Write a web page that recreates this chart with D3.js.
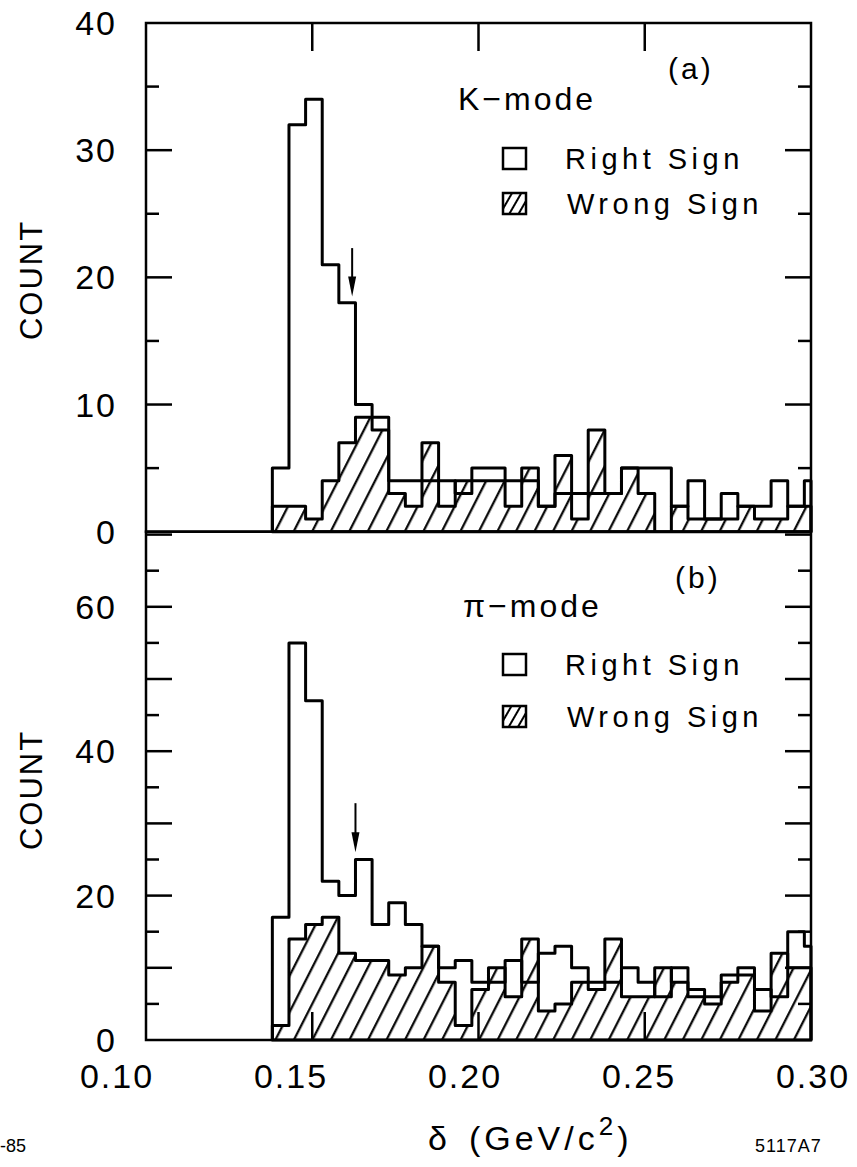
<!DOCTYPE html>
<html>
<head>
<meta charset="utf-8">
<script src="https://cdn.jsdelivr.net/npm/d3@7"></script>
<style>
  body { margin: 0; background: #fff; }
  svg { display: block; }
  text { font-family: "Liberation Sans", Arial, sans-serif; fill: #000; }
</style>
</head>
<body>
<svg id="chart" width="857" height="1167"></svg>
<script>
// Histogram binning in delta (GeV/c^2)
const binStart = 0.138;
const binWidth = 0.005;

// (a) K-mode counts per bin
const kRight = [5, 32, 34, 21, 18, 10, 9, 4, 4, 4, 4, 3, 5, 5, 4, 4, 2, 3, 3, 3, 3, 5, 5, 5, 2, 4, 1, 3, 2, 2, 4, 2, 4];
const kWrong = [2, 2, 1, 4, 7, 9, 8, 3, 2, 7, 2, 4, 4, 4, 2, 5, 2, 6, 1, 8, 3, 5, 3, 0, 2, 1, 1, 1, 2, 1, 1, 2, 2];

// (b) pi-mode counts per bin
const piRight = [17, 55, 47, 22, 20, 25, 16, 19, 16, 13, 10, 11, 8, 8, 11, 8, 12, 13, 10, 8, 8, 10, 8, 6, 10, 7, 6, 9, 10, 7, 6, 15, 13];
const piWrong = [2, 14, 16, 17, 12, 11, 11, 9, 10, 13, 8, 2, 7, 10, 6, 14, 4, 5, 8, 7, 14, 6, 6, 10, 8, 6, 5, 8, 9, 4, 12, 10, 10];

// Axis ticks and labels
const xTickValues = [0.10, 0.15, 0.20, 0.25, 0.30];
const xTickLabels = ["0.10", "0.15", "0.20", "0.25", "0.30"];
const yTicksA = [0, 10, 20, 30, 40];
const yTicksB = [0, 20, 40, 60];

// Arrow positions (delta, count at tip, count at tail)
const arrowA = [0.162, 18.5, 22.3];
const arrowB = [0.163, 26, 32.8];

const svg = d3.select("#chart");
const left = 146, right = 811;
const x = d3.scaleLinear().domain([0.10, 0.30]).range([left, right]);
// hand-lettered tick labels sit on a slightly wider spacing than the ticks
const xLabel = d3.scaleLinear().domain([0.10, 0.30]).range([117, 813]);
const yA = d3.scaleLinear().domain([0, 40]).range([531.7, 23]);
const yB = d3.scaleLinear().domain([0, 70]).range([1040, 534.6]);

const defs = svg.append("defs");
defs.append("pattern")
  .attr("id", "hatch").attr("patternUnits", "userSpaceOnUse")
  .attr("width", 16.5).attr("height", 16.5)
  .attr("patternTransform", "rotate(27)")
  .append("line").attr("x1", 8).attr("y1", -1).attr("x2", 8).attr("y2", 18)
  .attr("stroke", "#000").attr("stroke-width", 2.2);
defs.append("pattern")
  .attr("id", "hatchSmall").attr("patternUnits", "userSpaceOnUse")
  .attr("width", 8).attr("height", 8)
  .attr("patternTransform", "rotate(30)")
  .append("line").attr("x1", 4).attr("y1", -1).attr("x2", 4).attr("y2", 9)
  .attr("stroke", "#000").attr("stroke-width", 2);

function stepPath(counts, y) {
  const p = d3.path();
  const x0 = x(binStart);
  p.moveTo(x0, y(0));
  counts.forEach((c, i) => {
    const a = Math.min(binStart + i * binWidth, 0.30);
    const b = Math.min(binStart + (i + 1) * binWidth, 0.30);
    p.lineTo(x(a), y(c));
    p.lineTo(x(b), y(c));
  });
  const xe = Math.min(binStart + counts.length * binWidth, 0.30);
  p.lineTo(x(xe), y(0));
  return p.toString();
}

function panel(y, top, bottom, right_, wrong, cfg) {
  const g = svg.append("g");
  // wrong-sign: hatched area
  g.append("path").attr("d", stepPath(wrong, y) + "Z")
    .attr("fill", "url(#hatch)").attr("stroke", "#000")
    .attr("stroke-width", 3).attr("stroke-linejoin", "round");
  // right-sign: open outline
  g.append("path").attr("d", stepPath(right_, y))
    .attr("fill", "none").attr("stroke", "#000")
    .attr("stroke-width", 3).attr("stroke-linejoin", "round");

  // frame
  g.append("rect").attr("x", left).attr("y", top)
    .attr("width", right - left).attr("height", bottom - top)
    .attr("fill", "none").attr("stroke", "#000").attr("stroke-width", 2.5);

  // y ticks, both sides
  const yMax = y.domain()[1];
  for (let v = 5; v < yMax + 0.5; v += 5) {
    const len = (v % cfg.major === 0) ? 26 : 13;
    const yy = y(v);
    if (yy < top + 1) continue;
    g.append("line").attr("x1", left).attr("x2", left + len).attr("y1", yy).attr("y2", yy)
      .attr("stroke", "#000").attr("stroke-width", 2.5);
    g.append("line").attr("x1", right - len).attr("x2", right).attr("y1", yy).attr("y2", yy)
      .attr("stroke", "#000").attr("stroke-width", 2.5);
  }
  // x ticks on outer edge
  [0.15, 0.20, 0.25].forEach(v => {
    const ty = cfg.xTickAtTop ? top : bottom;
    const dir = cfg.xTickAtTop ? 1 : -1;
    g.append("line").attr("x1", x(v)).attr("x2", x(v))
      .attr("y1", ty).attr("y2", ty + dir * 28)
      .attr("stroke", "#000").attr("stroke-width", 2.5);
  });

  // y tick labels
  cfg.labels.forEach(v => {
    g.append("text").attr("x", 117).attr("y", y(v) + 12)
      .attr("text-anchor", "end").attr("font-size", 34)
      .attr("letter-spacing", 2).text(v);
  });

  // COUNT axis title
  g.append("text").attr("transform", `translate(42,${cfg.titleY}) rotate(-90)`)
    .attr("text-anchor", "middle").attr("font-size", 31)
    .attr("letter-spacing", 2).text("COUNT");

  // arrow
  const [ad, ac1, ac2] = cfg.arrow;
  g.append("line").attr("x1", x(ad)).attr("x2", x(ad)).attr("y1", y(ac2)).attr("y2", y(ac1) - 8)
    .attr("stroke", "#000").attr("stroke-width", 2);
  g.append("path")
    .attr("d", `M${x(ad) - 4},${y(ac1) - 20} L${x(ad) + 4},${y(ac1) - 20} L${x(ad)},${y(ac1)} Z`)
    .attr("fill", "#000");

  // panel tag, mode label and legend
  g.append("text").attr("x", cfg.tag[0]).attr("y", cfg.tag[1]).attr("font-size", 30)
    .attr("letter-spacing", 3).text(cfg.tag[2]);
  g.append("text").attr("x", cfg.mode[0]).attr("y", cfg.mode[1]).attr("font-size", 32)
    .attr("letter-spacing", 3).text(cfg.mode[2]);
  g.append("rect").attr("x", 503).attr("y", cfg.legY[0]).attr("width", 23).attr("height", 21)
    .attr("fill", "none").attr("stroke", "#000").attr("stroke-width", 2.5);
  g.append("text").attr("x", 565).attr("y", cfg.legY[0] + 21).attr("font-size", 29)
    .attr("letter-spacing", 4.5).text("Right Sign");
  g.append("rect").attr("x", 503).attr("y", cfg.legY[1]).attr("width", 23).attr("height", 21)
    .attr("fill", "url(#hatchSmall)").attr("stroke", "#000").attr("stroke-width", 2.5);
  g.append("text").attr("x", 567).attr("y", cfg.legY[1] + 21).attr("font-size", 29)
    .attr("letter-spacing", 4.5).text("Wrong Sign");
}

panel(yA, 23, 531.7, kRight, kWrong, {
  major: 10, labels: yTicksA, titleY: 280, xTickAtTop: true, arrow: arrowA,
  tag: [668, 79, "(a)"], mode: [458, 110, "K\u2212mode"], legY: [148, 193]
});
panel(yB, 531.7, 1040, piRight, piWrong, {
  major: 10, labels: yTicksB, titleY: 790, xTickAtTop: false, arrow: arrowB,
  tag: [675, 588, "(b)"], mode: [463, 617, "\u03c0\u2212mode"], legY: [654, 706]
});

// x tick labels
xTickValues.forEach((v, i) => {
  svg.append("text").attr("x", xLabel(v)).attr("y", 1088)
    .attr("text-anchor", "middle").attr("font-size", 34)
    .attr("letter-spacing", 2).text(xTickLabels[i]);
});

// x axis title
const xt = svg.append("text").attr("x", 428).attr("y", 1150).attr("font-size", 34);
xt.append("tspan").text("\u03b4");
xt.append("tspan").attr("dx", 22).attr("letter-spacing", 4).text("(GeV/c");
xt.append("tspan").attr("dy", -15).attr("font-size", 26).text("2");
xt.append("tspan").attr("dy", 15).attr("dx", 4).text(")");

// figure codes
svg.append("text").attr("x", 0).attr("y", 1152).attr("font-size", 18).text("-85");
svg.append("text").attr("x", 755).attr("y", 1152).attr("font-size", 18)
  .attr("letter-spacing", 1).text("5117A7");
</script>
</body>
</html>
